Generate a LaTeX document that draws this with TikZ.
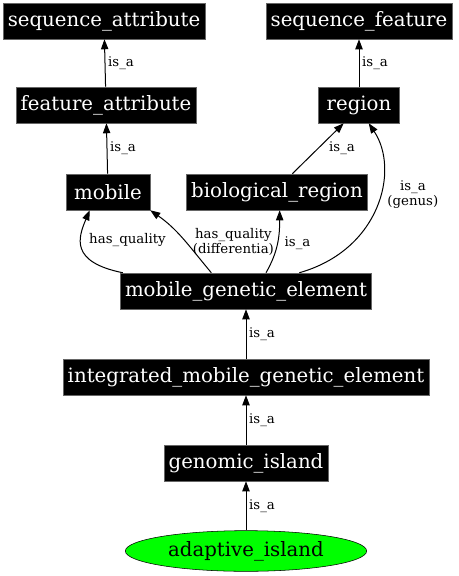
\documentclass[tikz,border=0pt]{standalone}
\usepackage{fontspec}
\setmainfont{DejaVu Serif}
\usetikzlibrary{arrows.meta,shapes.geometric}

\begin{document}
\begin{tikzpicture}[x=0.75pt, y=-0.75pt,
		term/.style={fill=black, draw=black!60, text=white, inner xsep=3.5pt, inner ysep=0pt, minimum height=27pt, minimum width=61pt, font=\fontsize{14.8pt}{16pt}\selectfont},
		leaf/.style={ellipse, fill=green, draw=black, inner sep=0pt, minimum width=181pt, minimum height=30.5pt, font=\fontsize{14.8pt}{16pt}\selectfont},
		edge/.style={-{Triangle[length=7.5pt,width=5.5pt]}, line width=0.75pt},
		lbl/.style={font=\fontsize{10pt}{11pt}\selectfont, inner sep=2pt, align=center}]
	\useasboundingbox (0,0) rectangle (459,576);
	
	% Top level terms
	\node[term] (sa) at (104,21) {sequence\_attribute};
	\node[term] (sf) at (359,21) {sequence\_feature};
	\node[term] (fa) at (106,105) {feature\_attribute};
	\node[term] (reg) at (359,105) {region};
	
	% Middle row
	\node[term, minimum width=63pt] (mob) at (108,192) {mobile};
	\node[term] (bio) at (277,192) {biological\_region};
	\node[term] (mge) at (246,291) {mobile\_genetic\_element};
	
	% Lower chain
	\node[term] (imge) at (246,377) {integrated\_mobile\_genetic\_element};
	\node[term] (gi) at (246,463) {genomic\_island};
	\node[leaf] (ai) at (246,551) {adaptive\_island};
	
	% Straight is_a links
	\foreach \a/\b in {fa/sa, reg/sf, mob/fa, imge/mge, gi/imge, ai/gi} {
		\draw[edge] (\a) -- node[lbl, right] {is\_a} (\b);
	}
	\draw[edge] (bio.50) -- node[lbl, right, xshift=6pt] {is\_a} (reg.-130);
	
	% Curved links out of mobile_genetic_element
	\draw[edge] ([xshift=2pt]mge.north west) .. controls (70,262) and (78,238) ..
		node[lbl, right, pos=0.5, xshift=3pt, yshift=6pt] {has\_quality} (mob.-135);
	\draw[edge] ([xshift=-26pt]mge.north) to[out=130, in=-35]
		node[lbl, right, pos=0.45, xshift=3pt] {has\_quality\\(differentia)} (mob.south east);
	\draw[edge] ([xshift=15pt]mge.north) to[out=60, in=-90]
		node[lbl, right, pos=0.5, xshift=3pt] {is\_a} ([xshift=2pt]bio.south);
	\draw[edge] ([xshift=40pt]mge.north) .. controls (380,250) and (400,170) ..
		node[lbl, right, pos=0.55, xshift=4pt, yshift=3pt] {is\_a\\(genus)} (reg.-62);
\end{tikzpicture}
\end{document}
